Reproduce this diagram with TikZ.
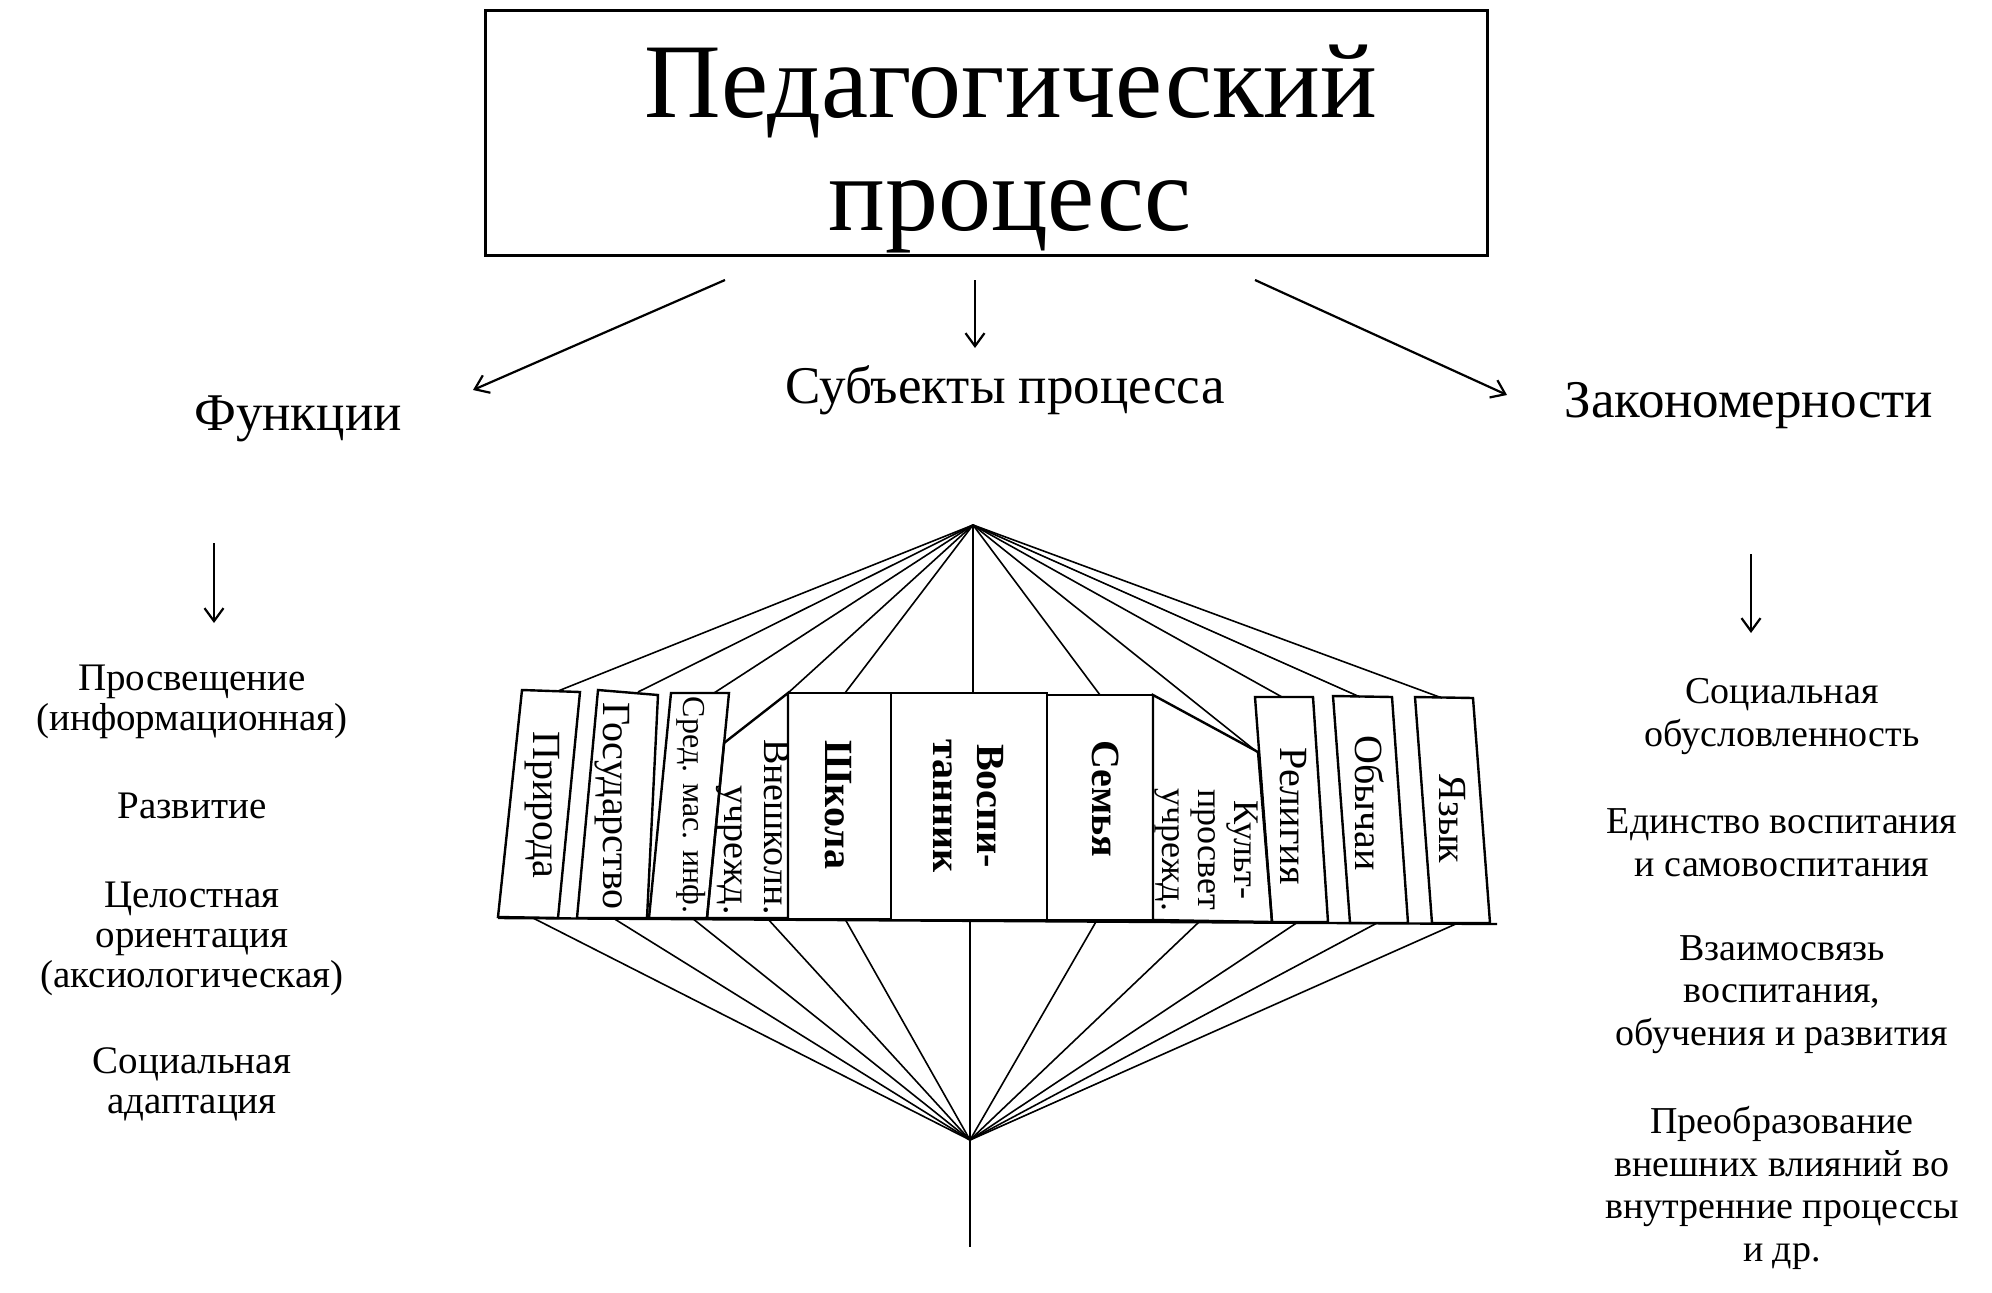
\documentclass[tikz,border=0pt]{standalone}
\usepackage{fontspec}
\setmainfont{Liberation Serif}
\usetikzlibrary{arrows.meta}
\begin{document}
\begin{tikzpicture}[x=1pt,y=-1pt,
  fan/.style={line width=1.6pt},
  bookline/.style={line width=2.4pt, line join=miter},
  arr/.style={line width=2.2pt, -{Straight Barb[length=13pt,width=19pt]}},
  spine/.style={rotate=-90, inner sep=0pt, font=\fontsize{40}{43}\selectfont, align=center},
  spinebold/.style={spine, font=\fontsize{40}{44}\selectfont\bfseries},
  spinesmall/.style={spine, font=\fontsize{36}{36}\selectfont},
  funtext/.style={align=center, inner sep=0pt, anchor=base, font=\fontsize{39}{40}\selectfont},
  lawtext/.style={align=center, inner sep=0pt, anchor=base, font=\fontsize{38}{42.5}\selectfont},
  heading/.style={inner sep=0pt, anchor=base, font=\fontsize{53}{60}\selectfont},
  titlefont/.style={inner sep=0pt, anchor=base, font=\fontsize{106}{113}\selectfont}]
\useasboundingbox (0,0) rectangle (1992,1293);

% title
\node[draw, line width=3pt, minimum width=1002pt, minimum height=245pt, inner sep=0pt] (titlebox) at (986,132.5) {};
\node[titlefont] (title1) at (1011,117) {Педагогический};
\node[titlefont] (title2) at (1010,230) {процесс};

% headings
\node[heading] (functions) at (298,430) {Функции};
\node[heading] (subjects) at (1005,403) {Субъекты процесса};
\node[heading] (laws) at (1749,417) {Закономерности};

% arrows from title
\coordinate (aLs) at (725,280); \coordinate (aLe) at (473,390);
\coordinate (aMs) at (975,280); \coordinate (aMe) at (975,348);
\coordinate (aRs) at (1255,280); \coordinate (aRe) at (1507,395);
\draw[arr] (aLs) -- (aLe);
\draw[arr] (aMs) -- (aMe);
\draw[arr] (aRs) -- (aRe);
\coordinate (dLs) at (214,543); \coordinate (dLe) at (214,623);
\coordinate (dRs) at (1751,554); \coordinate (dRe) at (1751,633);
\draw[arr] (dLs) -- (dLe);
\draw[arr] (dRs) -- (dRe);

% functions (anchor = baseline of last line)
\node[funtext] (f1) at (192,730) {Просвещение\\(информационная)};
\node[funtext] (f2) at (192,818) {Развитие};
\node[funtext] (f3) at (192,987) {Целостная\\ориентация\\(аксиологическая)};
\node[funtext] (f4) at (192,1113) {Социальная\\адаптация};

% laws (anchor = baseline of last line)
\node[lawtext] (l1) at (1782,746) {Социальная\\обусловленность};
\node[lawtext] (l2) at (1782,876) {Единство воспитания\\и самовоспитания};
\node[lawtext] (l3) at (1782,1045) {Взаимосвязь\\воспитания,\\обучения и развития};
\node[lawtext] (l4) at (1782,1261) {Преобразование\\внешних влияний во\\внутренние процессы\\и др.};

% apexes
\coordinate (apexT) at (973,525);
\coordinate (apexB) at (970,1140);
\coordinate (stem) at (970,1247);

% top targets
\coordinate (t1) at (558,691);
\coordinate (t2) at (638,692);
\coordinate (t3) at (714,693);
\coordinate (t4) at (788,693);
\coordinate (t5) at (845,693);
\coordinate (t6) at (973,693);
\coordinate (t7) at (1100,695);
\coordinate (t8) at (1257,752);
\coordinate (t9) at (1282,697);
\coordinate (t10) at (1360,697);
\coordinate (t11) at (1442,698);
% bottom targets
\coordinate (b1) at (533,918);
\coordinate (b2) at (613,918);
\coordinate (b3) at (692,918);
\coordinate (b4) at (767,918);
\coordinate (b5) at (845,919);
\coordinate (b6) at (970,920);
\coordinate (b7) at (1097,920);
\coordinate (b8) at (1200,921);
\coordinate (b9) at (1298,922);
\coordinate (b10) at (1377,923);
\coordinate (b11) at (1458,923);

\foreach \i in {1,...,11} {
  \draw[fan] (apexT) -- (t\i);
  \draw[fan] (apexB) -- (b\i);
}
\draw[fan] (apexB) -- (stem);

% books
\draw[bookline] (498,917) -- (522,690) -- (580,692) -- (558,918) -- cycle;
\draw[bookline] (577,918) -- (598,690) -- (658,695) -- (647,918) -- cycle;
\draw[bookline] (649,918) -- (671,693) -- (729,693) -- (707,918) -- cycle;
\draw[bookline] (707,918) -- (724,743) -- (788,693) -- (788,918) -- cycle;
\draw[bookline] (788,693) rectangle (891,919);
\draw[bookline] (891,693) rectangle (1047,920);
\draw[bookline] (1047,695) rectangle (1153,920);
\draw[bookline] (1153,920) -- (1153,695) -- (1258,752) -- (1272,922) -- cycle;
\draw[bookline] (1272,922) -- (1255,697) -- (1313,697) -- (1328,922) -- cycle;
\draw[bookline] (1350,923) -- (1333,696) -- (1392,697) -- (1408,923) -- cycle;
\draw[bookline] (1432,923) -- (1415,697) -- (1473,698) -- (1490,923) -- cycle;
\draw[bookline] (498,918) -- (1497,924);

% spine texts
\node[spine] (s1) at (542,805) {Природа};
\node[spine] (s2) at (612,806) {Государство};
\node[spine, font=\fontsize{32}{40}\selectfont] (s3) at (691,805) {Сред. мас. инф.};
\node[spine, align=right, anchor=east, font=\fontsize{38}{40}\selectfont] (s4) at (753,915) {Внешколн.\\учрежд.};
\node[spinebold] (s5) at (838,805) {Школа};
\node[spinebold] (s6) at (968,806) {Воспи-\\танник};
\node[spinebold] (s7) at (1106,799) {Семья};
\node[spinesmall] (s8) at (1206,850) {Культ-\\просвет\\учрежд.};
\node[spine] (s9) at (1293,816) {Религия};
\node[spine] (s10) at (1370,803) {Обычаи};
\node[spine] (s11) at (1452,819) {Язык};
\end{tikzpicture}
\end{document}
